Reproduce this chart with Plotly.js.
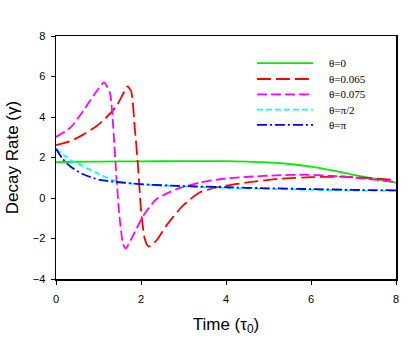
<!DOCTYPE html>
<html>
<head>
<meta charset="utf-8">
<script src="https://cdn.plot.ly/plotly-3.0.1.min.js"></script>
<style>body{margin:0;background:#fff}</style>
</head>
<body>
<div id="chart" style="width:414px;height:346px"></div>
<script>
// theta = 0
var x0 = [0, 0.5, 1, 2, 3, 4, 4.5, 5, 5.5, 6, 6.5, 7, 7.5, 8];
var y0 = [1.77, 1.79, 1.8, 1.81, 1.82, 1.82, 1.8, 1.76, 1.68, 1.55, 1.37, 1.14, 0.95, 0.76];

// theta = 0.065
var x1 = [0, 0.33, 0.64, 0.95, 1.17, 1.42, 1.58, 1.68, 1.77, 1.85, 1.93, 2.0, 2.09, 2.18, 2.36, 2.59, 2.98, 3.38, 3.93, 4.55, 5.26, 6, 6.8, 7.4, 8];
var y1 = [2.61, 2.8, 3.13, 3.54, 3.95, 4.53, 5.15, 5.51, 5.26, 3.54, 1.57, -0.56, -2.03, -2.39, -2.11, -1.38, -0.39, 0.27, 0.59, 0.78, 0.95, 1.03, 1.05, 0.98, 0.89];

// theta = 0.075
var x2 = [0, 0.33, 0.64, 0.95, 1.13, 1.27, 1.345, 1.42, 1.5, 1.58, 1.64, 1.81, 2.05, 2.36, 2.83, 3.38, 3.93, 4.55, 5.2, 5.9, 6.6, 7.3, 8];
var y2 = [3.02, 3.46, 4.3, 5.26, 5.71, 5.18, 3.54, 1.08, -1.05, -2.28, -2.49, -1.87, -0.89, -0.06, 0.43, 0.76, 0.95, 1.05, 1.12, 1.15, 1.08, 0.95, 0.79];

// theta = pi/2
var x3 = [0, 0.33, 0.64, 1.03, 1.42, 2.05, 3, 4, 5, 6, 7, 8];
var y3 = [2.43, 1.9, 1.57, 1.17, 0.82, 0.67, 0.58, 0.5, 0.45, 0.41, 0.37, 0.35];

// theta = pi
var x4 = [0, 0.15, 0.33, 0.64, 1.03, 1.42, 2.05, 3, 4, 5, 6, 7, 8];
var y4 = [2.43, 1.95, 1.57, 1.17, 0.89, 0.79, 0.67, 0.59, 0.53, 0.48, 0.44, 0.4, 0.38];

var names = ['\u03b8=0', '\u03b8=0.065', '\u03b8=0.075', '\u03b8=\u03c0/2', '\u03b8=\u03c0'];
var colors = ['#00ee00', '#ff0000', '#ff00ff', '#00ffff', '#0000ff'];
var dashes = ['solid', '14px,5px', '10px,4px', '6px,3px', '10px,3px,2px,3px'];
var xs = [x0, x1, x2, x3, x4];
var ys = [y0, y1, y2, y3, y4];

var data = [];
var shapes = [];
var annotations = [];
// legend drawn by hand so the rows sit as tight as in the original
var legY = [0.888, 0.823, 0.760, 0.697, 0.634];
for (var i = 0; i < xs.length; i++) {
  data.push({
    x: xs[i],
    y: ys[i],
    name: names[i],
    type: 'scatter',
    mode: 'lines',
    line: {color: colors[i], width: 1.8, dash: dashes[i], shape: 'spline', smoothing: 0.6}
  });
  shapes.push({
    type: 'line', xref: 'paper', yref: 'paper',
    x0: 0.591, x1: 0.756, y0: legY[i], y1: legY[i],
    line: {color: colors[i], width: 1.8, dash: dashes[i]}
  });
  annotations.push({
    xref: 'paper', yref: 'paper', x: 0.797, y: legY[i],
    xanchor: 'left', yanchor: 'middle', showarrow: false,
    text: names[i],
    font: {family: 'Liberation Serif, Times New Roman, serif', size: 11, color: '#000'}
  });
}

var axisStyle = {
  showgrid: false,
  zeroline: false,
  showline: true,
  mirror: true,
  linecolor: '#000',
  linewidth: 1.5,
  ticks: 'outside',
  ticklen: 4,
  tickcolor: '#000',
  tickfont: {family: 'Liberation Sans, Arial, sans-serif', size: 11, color: '#000'}
};

var layout = {
  width: 414,
  height: 346,
  margin: {l: 56, r: 18, t: 36, b: 67},
  paper_bgcolor: '#fff',
  plot_bgcolor: '#fff',
  showlegend: false,
  shapes: shapes,
  annotations: annotations,
  xaxis: Object.assign({}, axisStyle, {
    range: [0, 8],
    tickvals: [0, 2, 4, 6, 8],
    ticklabelstandoff: 5,
    title: {text: 'Time (\u03c4<sub>0</sub>)', font: {family: 'Liberation Sans, Arial, sans-serif', size: 17, color: '#000'}, standoff: 14}
  }),
  yaxis: Object.assign({}, axisStyle, {
    range: [-4, 8],
    tickvals: [-4, -2, 0, 2, 4, 6, 8],
    ticklabelstandoff: 3,
    title: {text: 'Decay Rate (\u03b3)', font: {family: 'Liberation Sans, Arial, sans-serif', size: 17, color: '#000'}, standoff: 10}
  })
};

Plotly.newPlot('chart', data, layout, {displayModeBar: false, staticPlot: true});
</script>
</body>
</html>
